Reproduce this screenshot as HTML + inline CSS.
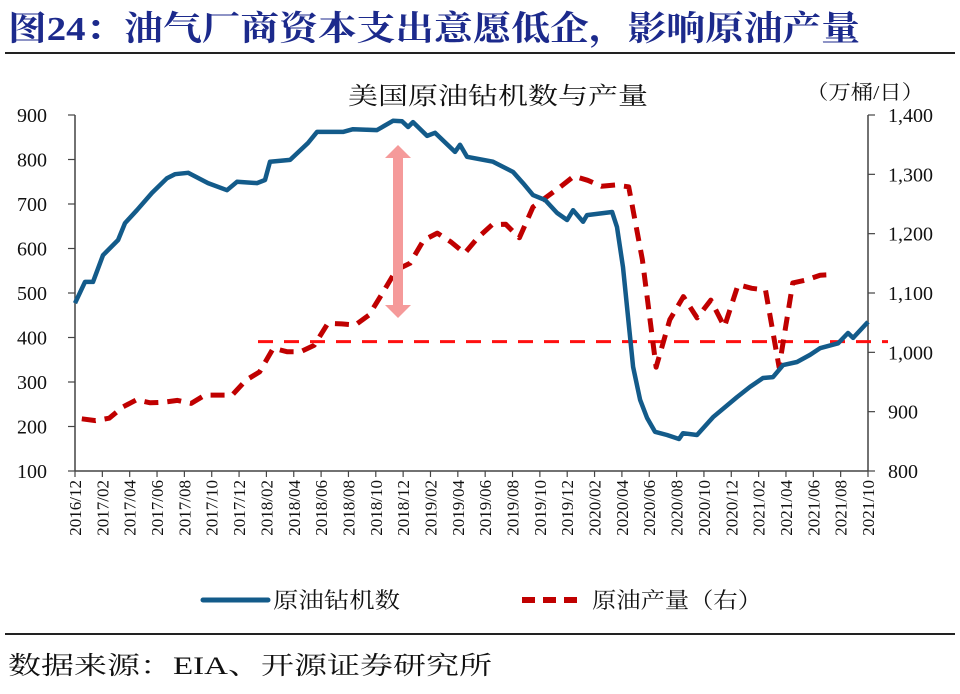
<!DOCTYPE html>
<html><head><meta charset="utf-8">
<style>
body{margin:0;background:#fff;width:960px;height:689px;overflow:hidden;font-family:"Liberation Serif","Noto Serif CJK SC",serif;}
svg text{font-family:"Liberation Serif","Noto Serif CJK SC",serif;}
</style></head>
<body>
<svg id="c" width="960" height="689" xmlns="http://www.w3.org/2000/svg">
<text x="8" y="40" font-size="34" font-weight="bold" fill="#1c2a8c" textLength="852" lengthAdjust="spacingAndGlyphs">图24：油气厂商资本支出意愿低企，影响原油产量</text>
<line x1="5" y1="53" x2="955" y2="53" stroke="#222" stroke-width="2"/>
<text x="348" y="104" font-size="24" fill="#111" textLength="300" lengthAdjust="spacingAndGlyphs">美国原油钻机数与产量</text>
<text x="806" y="99" font-size="20" fill="#111" textLength="118" lengthAdjust="spacingAndGlyphs">（万桶/日）</text>
<g id="axes"></g>
<g id="plot"></g>
<g>
<line x1="203" y1="600" x2="268" y2="600" stroke="#135b8a" stroke-width="5" stroke-linecap="round"/>
<text x="273" y="608" font-size="22" fill="#111" textLength="127" lengthAdjust="spacingAndGlyphs">原油钻机数</text>
<line x1="522" y1="600" x2="582" y2="600" stroke="#c00000" stroke-width="6" stroke-dasharray="13,8"/>
<text x="592" y="608" font-size="22" fill="#111" textLength="170" lengthAdjust="spacingAndGlyphs">原油产量（右）</text>
</g>
<line x1="5" y1="634" x2="955" y2="634" stroke="#222" stroke-width="2"/>
<text x="8" y="674" font-size="25" fill="#111" textLength="484" lengthAdjust="spacingAndGlyphs">数据来源：EIA、开源证券研究所</text>
</svg>
<script>
const months = 58;
const leftTicks = [100,200,300,400,500,600,700,800,900];
const rightTicks = [800,900,1000,1100,1200,1300,1400];
const rightTickLabels = ["800","900","1,000","1,100","1,200","1,300","1,400"];
const xLabels = ["2016/12","2017/02","2017/04","2017/06","2017/08","2017/10","2017/12","2018/02","2018/04","2018/06","2018/08","2018/10","2018/12","2019/02","2019/04","2019/06","2019/08","2019/10","2019/12","2020/02","2020/04","2020/06","2020/08","2020/10","2020/12","2021/02","2021/04","2021/06","2021/08","2021/10"];
const rigMonths = [0,0.73,1.32,2.05,3.15,3.66,4.53,5.63,6.73,7.31,8.27,9.73,11.12,11.85,13.31,13.9,14.26,15.73,17.04,17.7,19.6,20.33,22.09,23.26,23.92,24.36,24.72,25.75,26.33,27.79,28.16,28.67,30.57,32.04,32.77,33.5,34.38,35.25,35.99,36.43,37.16,37.45,39.28,39.64,40.08,40.82,41.33,41.84,42.42,43.3,44.18,44.47,45.49,46.66,48.42,49.37,50.32,51.05,51.79,52.81,53.76,54.49,55.81,56.54,56.91,58];
const rigCount = [477,525,525,585,619,657,686,725,758,767,770,747,731,750,747,754,795,799,837,862,862,868,866,887,886,873,884,853,860,817,833,806,795,772,747,720,709,680,664,686,660,675,682,648,558,334,260,219,188,181,172,185,181,221,266,289,309,311,338,345,361,376,387,410,399,435];
const prodMonths = [0.5,1.5,2.5,3.5,4.5,5.5,6.5,7.5,8.5,9.5,10.5,11.5,12.5,13.5,14.5,15.5,16.5,17.5,18.5,19.5,20.5,21.5,22.5,23.5,24.5,25.5,26.5,27.5,28.5,29.5,30.5,31.5,32.5,33.5,34.5,35.5,36.5,37.5,38.5,39.5,40.5,41.5,42.5,43.5,44.5,45.5,46.5,47.5,48.5,49.5,50.5,51.5,52.5,53.5,54.5,55.5];
const production = [888,885,889,908,920,915,916,919,914,928,928,928,953,967,1007,1001,1001,1012,1049,1048,1046,1063,1100,1139,1150,1189,1201,1186,1167,1194,1215,1216,1193,1245,1262,1279,1297,1290,1280,1282,1279,1156,975,1055,1094,1058,1088,1043,1114,1108,1105,975,1117,1122,1130,1131];
const refLevel = 1018;

const X0=75,X1=868,YT=115,YB=471;
const xs = m => X0 + (X1-X0)*m/months;
const yL = v => YB - (v-100)/800*(YB-YT);
const yR = v => YB - (v-800)/600*(YB-YT);
const NS="http://www.w3.org/2000/svg";
function mk(parent,tag,attrs){const e=document.createElementNS(NS,tag);for(const k in attrs)e.setAttribute(k,attrs[k]);parent.appendChild(e);return e;}
const axes=document.getElementById('axes'), plot=document.getElementById('plot');

let a=mk(axes,'line',{x1:X0,y1:YT,x2:X0,y2:YB,stroke:'#444','stroke-width':1.5});


a=mk(axes,'line',{x1:X1,y1:YT,x2:X1,y2:YB,stroke:'#444','stroke-width':1.5});


a=mk(axes,'line',{x1:X0,y1:YB,x2:X1,y2:YB,stroke:'#444','stroke-width':1.5});



leftTicks.forEach(v=>{
  const y=yL(v);
  mk(axes,'line',{x1:X0-7,y1:y,x2:X0,y2:y,stroke:'#444','stroke-width':1.2});
  const t=mk(axes,'text',{x:X0-28,y:y+7,'font-size':20,'text-anchor':'end',fill:'#111'});
  t.textContent=v;
  
  
});
rightTicks.forEach((v,i)=>{
  const y=yR(v);
  mk(axes,'line',{x1:X1,y1:y,x2:X1+7,y2:y,stroke:'#444','stroke-width':1.2});
  const t=mk(axes,'text',{x:X1+20,y:y+7,'font-size':20,fill:'#111'});
  t.textContent=rightTickLabels[i];
  
  
});
xLabels.forEach((lab,i)=>{
  const x=xs(i*2);
  mk(axes,'line',{x1:x,y1:YB,x2:x,y2:YB+6,stroke:'#444','stroke-width':1.2});
  const t=mk(axes,'text',{x:0,y:0,'font-size':17,'text-anchor':'end',fill:'#111',transform:`translate(${x+6},${YB+9}) rotate(-90)`});
  t.textContent=lab;
  
  
});

let rl=mk(plot,'line',{x1:258,y1:yR(refLevel),x2:888,y2:yR(refLevel),stroke:'#ff1010','stroke-width':3,'stroke-dasharray':'15,11'});



let pp=mk(plot,'path',{d:production.map((v,i)=>(i?'L':'M')+xs(prodMonths[i]).toFixed(1)+','+yR(v).toFixed(1)).join(''),fill:'none',stroke:'#c00000','stroke-width':5,'stroke-dasharray':'14,9','stroke-linejoin':'round'});



let rp=mk(plot,'path',{d:rigCount.map((v,i)=>(i?'L':'M')+xs(rigMonths[i]).toFixed(1)+','+yL(v).toFixed(1)).join(''),fill:'none',stroke:'#135b8a','stroke-width':4.5,'stroke-linejoin':'round'});



let ar=mk(plot,'path',{d:'M398,145 L411,158 L403,158 L403,305 L411,305 L398,318 L385,305 L393,305 L393,158 L385,158 Z',fill:'#f59a9a'});


</script>
</body></html>
